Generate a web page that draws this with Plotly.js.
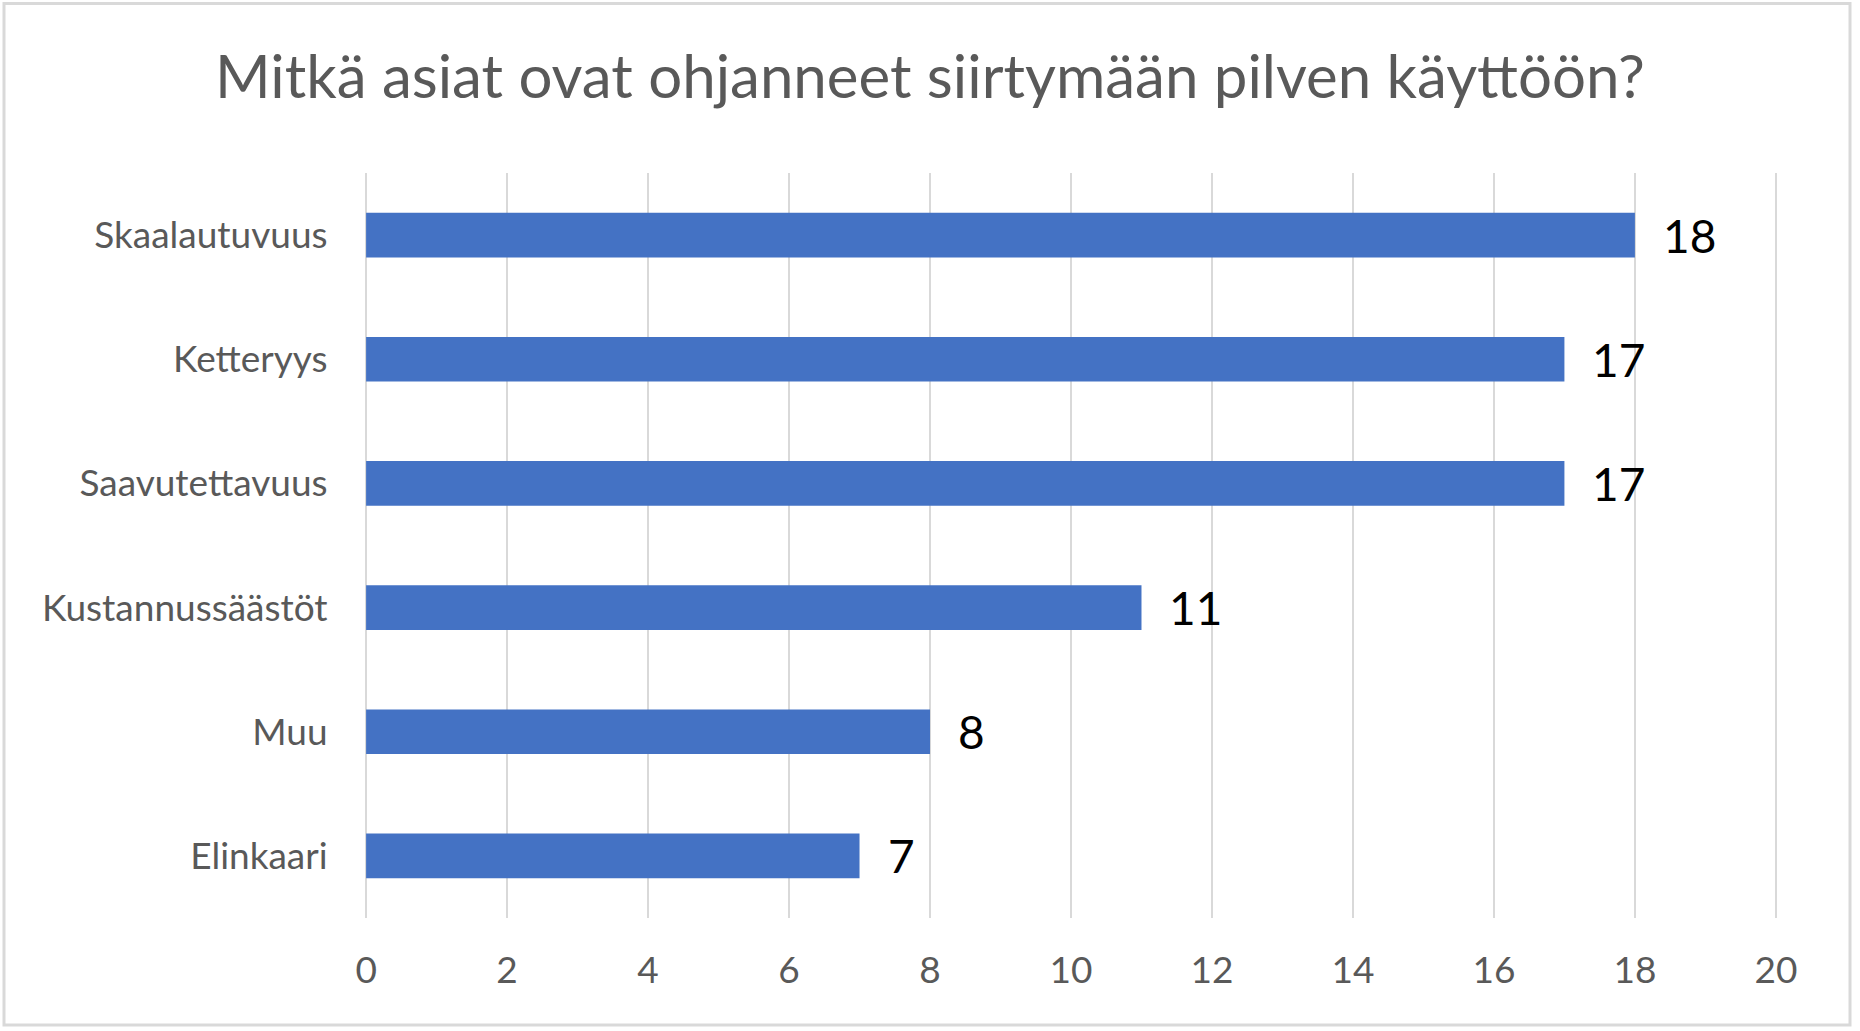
<!DOCTYPE html>
<html>
<head>
<meta charset="utf-8">
<script src="https://cdn.plot.ly/plotly-3.0.1.min.js"></script>
<style>
  html, body { margin: 0; padding: 0; background: #fff; }
  #chart { width: 1860px; height: 1031px; }
</style>
</head>
<body>
<div id="chart"></div>
<script>
var categories = ["Skaalautuvuus", "Ketteryys", "Saavutettavuus", "Kustannussäästöt", "Muu", "Elinkaari"];
var values = [18, 17, 17, 11, 8, 7];
var tickValues = [0, 2, 4, 6, 8, 10, 12, 14, 16, 18, 20];

var W = 1860, H = 1031;
var M = { l: 364, r: 82, t: 173, b: 113 };
var plotW = W - M.l - M.r, plotH = H - M.t - M.b;

// frame around the whole chart, in paper units
function px(x) { return (x - M.l) / plotW; }
function py(y) { return (H - M.b - y) / plotH; }

var data = [{
  type: "bar",
  orientation: "h",
  x: values,
  y: categories,
  width: 0.36,
  marker: { color: "#4472C4" },
  hoverinfo: "x+y"
}];

var labels = values.map(function (v, i) {
  return {
    x: v, y: categories[i], xref: "x", yref: "y",
    text: String(v), showarrow: false,
    xanchor: "left", yanchor: "middle", xshift: 26,
    font: { family: "Lato, sans-serif", size: 46, color: "#000000" }
  };
});

var layout = {
  width: W, height: H,
  margin: M,
  paper_bgcolor: "#ffffff",
  plot_bgcolor: "#ffffff",
  showlegend: false,
  font: { family: "Lato, sans-serif", color: "#595959" },
  title: {
    text: "Mitkä asiat ovat ohjanneet siirtymään pilven käyttöön?",
    font: { family: "Lato, sans-serif", size: 60, color: "#595959" },
    x: 0.5, xref: "container", xanchor: "center",
    y: 1 - 77 / H, yref: "container", yanchor: "middle"
  },
  xaxis: {
    // a hair wider than 0..20 so the end gridlines are drawn
    range: [-0.03, 20.03],
    tickvals: tickValues,
    ticktext: tickValues.map(String),
    showgrid: true, gridcolor: "#d9d9d9", gridwidth: 2,
    zeroline: false, showline: false,
    ticks: "outside", ticklen: 20, tickcolor: "rgba(0,0,0,0)",
    tickfont: { family: "Lato, sans-serif", size: 37, color: "#595959" },
    fixedrange: true
  },
  yaxis: {
    type: "category",
    range: [5.5, -0.5],
    showgrid: false, zeroline: false, showline: false,
    ticks: "outside", ticklen: 28, tickcolor: "rgba(0,0,0,0)",
    tickfont: { family: "Lato, sans-serif", size: 37, color: "#595959" },
    fixedrange: true
  },
  annotations: labels,
  shapes: [{
    type: "rect", xref: "paper", yref: "paper",
    x0: px(4), x1: px(1850), y0: py(1025), y1: py(3.5),
    line: { color: "#d9d9d9", width: 3 },
    fillcolor: "rgba(0,0,0,0)", layer: "below"
  }]
};

Plotly.newPlot("chart", data, layout, { displayModeBar: false, responsive: false });
</script>
</body>
</html>
